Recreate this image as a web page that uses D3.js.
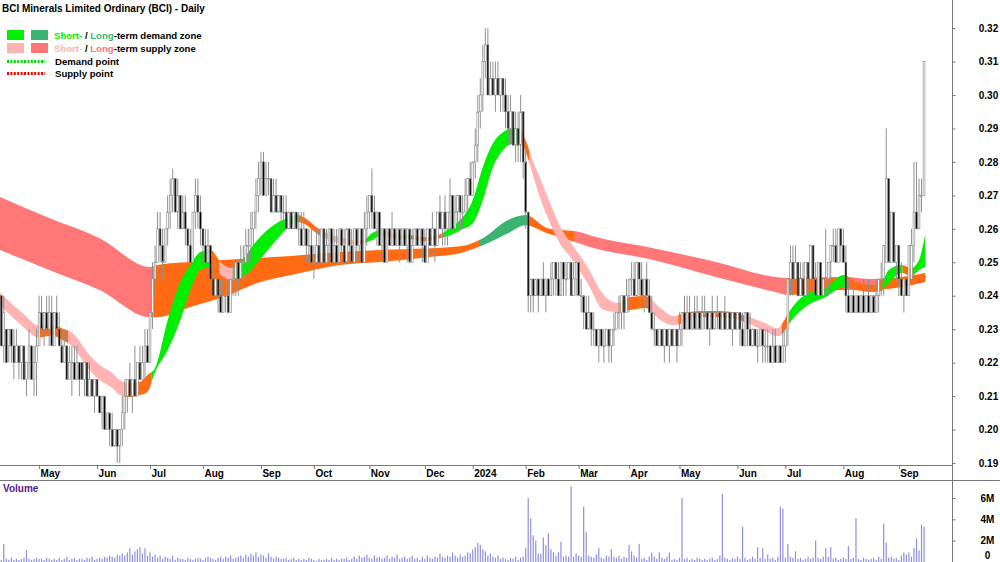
<!DOCTYPE html>
<html>
<head>
<meta charset="utf-8">
<script src="https://cdn.jsdelivr.net/npm/d3@7"></script>
<style>
body { margin: 0; background: #fff; }
svg { display: block; font-family: "Liberation Sans", Arial, sans-serif; }
</style>
</head>
<body>
<script>
// prices in thousandths of a dollar, one entry per trading day from 5 Apr 2023
const opens = [
	240,225,230,225,230,225,220,225, 220,225,215,220,225,215,220,225,
	235,230,235,230,235,225,235,230, 225,220,225,215,220,220,215,220,
	220,215,220,210,215,210,215,210, 205,210,200,205,200,195,200,195,
	200,205,210,215,210,215,210,220, 215,220,225,220,235,245,250,260,
	255,250,260,265,270,275,265,270, 260,265,260,255,250,265,270,265,
	260,255,250,255,245,240,245,240, 235,240,240,235,245,245,250,245,
	250,250,255,255,260,265,270,275, 280,270,275,275,265,270,265,270,
	265,265,260,265,260,265,260,260, 255,260,255,255,250,250,255,250,
	260,250,255,260,250,255,250,260, 255,250,260,255,250,260,255,260,
	250,260,265,270,265,260,265,255, 260,250,260,255,260,255,260,255,
	260,255,260,250,255,260,255,260, 255,250,260,255,260,255,265,260,
	265,260,265,270,260,265,270,265, 265,270,275,270,280,285,295,300,
	310,315,300,305,300,305,300,305, 300,295,290,295,285,290,285,295,
	280,265,240,245,240,245,240,245, 240,245,240,245,250,245,240,250,
	245,245,250,240,245,250,240,240, 235,230,235,230,230,225,230,225,
	225,230,225,230,230,235,235,240, 235,240,245,245,240,250,245,240,
	245,240,235,230,230,225,230,225, 230,225,230,225,230,225,230,235,
	230,235,230,235,230,235,230,235, 235,230,235,230,235,235,230,235,
	230,235,230,235,230,235,230,225, 235,230,225,230,225,225,230,225,
	225,225,220,225,220,225,220,225, 230,245,250,245,250,240,245,240,
	250,245,255,245,240,250,240,245, 245,250,255,255,250,260,255,250,
	240,235,240,235,240,235,240,235, 240,235,240,235,240,245,245,250,
	275,250,265,250,255,245,240,245, 240,245,255,265,260,270,270
]
const highs = [
	240,240,230,230,230,230,230,225, 225,225,220,230,225,225,230,240,
	240,235,240,240,240,235,240,235, 230,230,225,225,225,225,225,220,
	220,220,220,220,215,215,215,210, 210,210,205,205,205,200,200,200,
	210,215,215,220,215,225,220,225, 225,230,230,235,250,255,265,265,
	260,260,270,275,278,275,275,270, 270,270,260,260,265,275,275,270,
	260,260,260,255,250,250,245,245, 245,245,245,245,250,250,250,255,
	255,260,260,265,265,275,280,283, 283,280,280,275,275,275,270,270,
	270,270,265,265,265,265,265,265, 265,260,260,260,255,260,260,260,
	260,260,260,260,260,260,260,260, 260,260,260,260,260,260,260,260,
	265,270,270,278,270,265,265,260, 260,260,260,265,260,260,260,260,
	260,260,260,260,260,260,260,260, 260,260,260,265,260,265,270,265,
	270,265,275,270,270,270,270,270, 275,275,280,280,290,300,305,315,
	320,320,310,310,310,310,305,305, 305,300,300,295,295,295,300,295,
	285,265,245,245,245,245,245,250, 245,245,250,250,250,250,250,250,
	250,250,250,250,250,250,245,240, 240,240,235,235,230,230,230,230,
	230,230,230,235,235,240,240,240, 245,245,250,250,250,250,250,245,
	250,245,240,235,230,230,230,230, 230,230,230,230,230,235,235,240,
	240,240,235,240,240,235,240,240, 235,235,240,235,240,235,235,240,
	235,235,235,235,235,235,235,235, 235,235,230,230,230,230,230,230,
	230,225,230,230,225,225,230,230, 245,255,255,255,250,250,250,250,
	250,255,255,250,250,250,245,260, 250,255,260,260,260,260,260,255,
	245,240,245,240,240,240,245,240, 245,240,240,245,245,250,255,290,
	275,265,265,255,255,250,245,245, 255,260,280,280,275,275,310
]
const lows = [
	225,220,220,220,220,215,220,215, 215,215,210,215,215,210,210,225,
	230,225,230,225,225,225,230,225, 220,220,215,215,210,215,215,210,
	215,210,210,210,210,205,210,205, 200,200,200,195,195,195,190,190,
	195,200,205,210,205,210,210,215, 215,215,220,220,230,240,250,250,
	245,250,255,260,265,265,260,260, 260,255,250,250,250,260,260,255,
	250,250,250,245,240,240,235,235, 235,235,235,235,240,240,240,245,
	245,245,250,250,255,260,265,270, 270,270,270,265,265,265,265,260,
	260,260,260,260,260,260,255,255, 255,250,250,250,245,250,250,250,
	250,250,250,250,250,250,250,250, 250,250,250,250,250,250,250,250,
	250,255,260,260,260,255,255,250, 250,250,255,255,255,255,250,255,
	255,250,250,250,255,255,255,250, 250,250,255,255,250,255,260,255,
	255,255,260,260,260,260,260,260, 265,265,270,270,275,280,290,295,
	305,300,300,300,295,300,295,295, 290,285,285,285,280,280,280,275,
	260,235,235,235,240,235,240,240, 235,240,240,240,240,240,240,240,
	240,245,240,240,240,240,235,230, 230,230,225,225,225,220,225,220,
	225,220,220,225,230,230,230,230, 235,235,240,240,240,240,240,235,
	240,235,230,225,225,225,225,220, 225,220,225,225,220,225,225,230,
	230,230,230,230,230,230,230,230, 230,225,230,230,230,230,230,230,
	230,230,225,230,230,225,225,225, 225,225,225,225,220,225,220,220,
	220,220,220,220,220,220,220,220, 225,240,240,245,240,240,240,240,
	240,245,245,240,240,240,240,240, 240,245,250,250,250,250,250,235,
	235,235,235,235,235,235,235,235, 235,235,235,235,235,240,240,250,
	250,250,250,245,240,240,235,240, 240,245,250,260,260,265,270
]
const closes = [
	225,235,220,230,225,220,225,220, 225,215,220,225,215,220,225,235,
	230,235,230,235,225,235,230,225, 220,225,215,220,220,215,220,215,
	215,220,210,215,210,215,210,205, 210,200,205,200,195,200,195,200,
	205,210,215,210,215,210,220,215, 220,225,220,235,245,250,260,255,
	250,260,265,270,275,265,270,260, 265,260,255,250,265,270,265,260,
	255,250,255,245,240,245,240,235, 240,240,235,245,245,250,245,250,
	250,255,255,260,265,270,275,280, 270,275,275,265,270,265,270,265,
	265,260,265,260,265,260,260,255, 260,255,255,250,250,255,250,260,
	250,255,260,250,255,250,260,255, 250,260,255,250,260,255,260,250,
	260,265,270,265,260,265,255,260, 250,260,255,260,255,260,255,260,
	255,260,250,255,260,255,260,255, 250,260,255,260,255,265,260,265,
	260,265,270,260,265,270,265,265, 270,275,270,280,285,295,300,310,
	315,300,305,300,305,300,305,300, 295,290,295,285,290,285,295,280,
	265,240,245,240,245,240,245,240, 245,240,245,250,245,240,250,245,
	245,250,240,245,250,240,240,235, 230,235,230,230,225,230,225,225,
	230,225,230,230,235,235,240,235, 240,245,245,240,250,245,240,245,
	240,235,230,230,225,230,225,230, 225,230,225,230,225,230,235,230,
	235,230,235,230,235,230,235,235, 230,235,230,235,235,230,235,230,
	235,230,235,230,235,230,225,235, 230,225,230,225,225,230,225,225,
	225,220,225,220,225,220,225,230, 245,250,245,250,240,245,240,250,
	245,255,245,240,250,240,245,245, 250,255,255,250,260,255,250,240,
	235,240,235,240,235,240,235,240, 235,240,235,240,245,245,255,275,
	250,265,250,255,245,240,245,240, 255,255,265,260,270,270,310
]
// volume in units of 100,000 shares
const volumes = [
	2,17,3,2,4,2,3,2, 3,4,11,3,2,3,4,3,
	3,2,4,3,2,3,2,4, 2,3,5,2,3,4,2,3,
	3,2,4,3,5,2,3,4, 3,5,4,6,5,4,7,6,
	8,6,9,13,7,10,12,14, 8,13,6,9,5,7,4,6,
	3,5,4,3,6,2,4,3, 3,2,4,3,2,3,4,3,
	2,4,5,4,3,2,4,5, 3,5,4,6,3,4,5,6,
	4,7,5,8,6,9,5,7, 6,4,8,5,3,5,4,3,
	3,4,2,3,4,2,3,2, 3,2,4,3,2,1,3,2,
	2,3,2,4,2,3,2,3, 3,4,2,3,5,3,6,4,
	5,7,4,3,6,4,5,3, 4,6,3,5,4,7,3,4,
	5,3,4,6,3,4,2,5, 3,6,4,3,5,4,8,5,
	4,6,5,9,6,4,7,5, 6,9,8,12,14,18,16,12,
	10,6,8,5,4,6,3,4, 3,2,4,3,5,2,4,5,
	13,60,41,25,20,8,8,23, 16,27,12,9,6,9,19,5,
	6,5,71,5,8,6,5,52, 28,6,5,4,7,13,4,3,
	6,5,12,5,4,6,3,5, 4,16,10,6,4,17,3,4,
	2,5,9,5,3,9,4,3, 5,9,2,3,2,4,60,3,
	4,2,3,2,4,3,2,3, 2,3,4,2,3,6,64,4,
	3,2,4,3,5,3,33,4, 2,3,5,3,14,4,13,3,
	7,3,4,2,5,52,50,4, 17,5,4,10,3,4,2,3,
	5,3,4,20,4,3,5,13, 5,14,3,4,2,3,4,3,
	15,3,4,41,3,2,4,3, 2,3,4,2,5,3,36,18,
	4,5,3,4,2,6,9,7, 9,5,13,22,11,35,33
]

// short-term and long-term ribbon edges (bar index, top, bottom in thousandths)
const shortAt = [-0.5,8,15,20,25,28,35,39,44,47,50,55,58,61,66,71,75,79,83,87,91,94,98,101.5,108,115,117.5,120.5,124.5,128.5,134.4,140.4,143.5,147,150,154,158,162,168,174,178,182,187,191,195,199,203,206,208,210.5,214,218,222,226,232.5,239,244.3,249.5,255.5,261.4,266.6,271.3,277.3,285,293,298,303,308,311,313,320,327,334,339,345,349,352,357,361,364,366.5]
const shortTop = [241.0,235.1,231.0,231.0,230.0,229.0,222.3,219.3,216.9,214.8,213.9,214.2,216.3,218.4,232.7,244.1,249.2,253.1,253.7,250.0,248.3,249.2,253.1,256.6,261.1,263.5,264.1,263.2,260.8,259.0,257.5,256.6,256.6,258.7,259.6,259.0,258.1,258.1,257.5,258.4,260.2,262.6,268.6,278.5,285.6,288.9,290.1,289.5,286.5,281.0,274.6,267.1,260.2,255.7,248.6,240.2,237.8,239.6,239.9,236.3,233.9,234.8,235.4,235.4,234.5,233.3,231.8,230.3,233.3,235.7,240.8,242.3,246.2,244.1,243.2,243.8,247.7,249.2,248.3,250.7,258.5]
const shortBottom = [237.2,231.2,227.5,228.0,226.5,225.0,217.8,214.8,212.4,210.3,209.7,210.3,211.2,217.2,223.8,232.7,241.7,247.7,248.6,246.2,244.7,245.3,246.8,249.8,255.7,261.1,262.0,261.4,259.0,257.2,255.7,255.4,255.7,256.6,257.8,257.5,256.9,256.9,256.3,257.2,258.1,259.6,261.7,268.6,278.5,283.5,285.6,285.9,283.0,277.0,268.6,261.1,255.1,251.3,243.8,235.7,235.1,235.7,236.3,232.7,231.2,232.1,233.6,233.6,232.7,231.2,229.4,227.9,229.7,232.1,237.2,239.6,242.6,241.7,241.1,241.4,243.8,246.8,245.9,247.7,248.6]
const longAt = [-0.5,19,39,59,62,75,88,101.5,115,134.4,150,170,182,191,201,208,216.6,229.7,232.5,258.6,285,307,312,334,345,357,366.5]
const longTop = [269.5,263.2,257.2,248.6,249.2,250.1,250.7,251.3,251.9,253.1,253.7,254.2,254.8,257.2,262.6,264.1,260.2,259.0,258.3,254.2,249.8,245.6,245.3,245.6,245.0,245.6,246.8]
const longBottom = [253.7,247.7,241.7,233.6,233.6,236.6,239.6,243.8,246.2,249.2,250.1,251.6,252.7,255.1,258.7,261.1,258.7,255.5,254.8,250.7,245.3,241.1,240.2,241.7,241.7,242.6,244.1]

// colour state of each ribbon: d = demand, s = supply, m = mixed
const shortRunStart = [0,15,27,50,60,84,87,93,119,127,142,144,151,159,163,175,206,210,246,257,269,296,310,313,336,350,358,362]
const shortRunState = ['s','m','s','m','d','m','s','d','m','s','m','d','m','d','m','d','m','s','m','s','m','s','m','d','m','d','m','d']
const longRunStart = [0,61,190,209,228,312,335,349]
const longRunState = ['s','m','d','m','s','m','s','m']

const priceTicks = [0.19,0.20,0.21,0.22,0.23,0.24,0.25,0.26,0.27,0.28,0.29,0.30,0.31,0.32]
const volumeTicks = [0,2,4,6]
const volumeTickLabels = ['0','2M','4M','6M']

const holidays = ['2023-04-07','2023-04-10','2023-04-25','2023-06-12','2023-12-25','2023-12-26',
	'2024-01-01','2024-01-26','2024-03-29','2024-04-01','2024-04-25','2024-06-10']

const shortColor = { d: '#00ee00', s: '#ffb3b3', m: '#ff6a13' }
const longColor = { d: '#3cb371', s: '#ff7777', m: '#ff6a13' }

const width = 1000
const height = 562
const axisX = 952.5

// trading calendar for the bars
const dayKey = d3.timeFormat('%Y-%m-%d')
const dates = []
for (let d = new Date(2023, 3, 5); dates.length < opens.length; d = d3.timeDay.offset(d, 1)) {
	const wd = d.getDay()
	if (wd === 0 || wd === 6 || holidays.includes(dayKey(d))) continue
	dates.push(d)
}

const bars = opens.map((o, i) => ({
	i, date: dates[i],
	o: o / 1000, h: highs[i] / 1000, l: lows[i] / 1000, c: closes[i] / 1000,
	v: volumes[i] / 10
}))

const x = d3.scaleLinear().domain([-0.5, 375.5]).range([0, 948])
const y = d3.scaleLinear().domain([0.1894, 0.3284]).range([465, 0])
const yv = d3.scaleLinear().domain([0, 7.69]).range([562, 480])

const svg = d3.select('body').append('svg')
	.attr('width', width)
	.attr('height', height)

const defs = svg.append('defs')

const band = (at, top, bottom) => at.map((i, k) => ({ i, hi: top[k] / 1000, lo: bottom[k] / 1000 }))
const area = d3.area()
	.curve(d3.curveMonotoneX)
	.x(d => x(d.i))
	.y0(d => y(d.lo))
	.y1(d => y(d.hi))

function drawRibbon (name, pts, starts, states, colors) {
	const g = svg.append('g')
	starts.forEach((s, k) => {
		const e = k < starts.length - 1 ? starts[k + 1] : bars.length + 2
		const id = `${name}${k}`
		defs.append('clipPath').attr('id', id)
			.append('rect')
			.attr('x', x(s - 0.5))
			.attr('width', x(e - 0.5) - x(s - 0.5))
			.attr('y', 0)
			.attr('height', 465)
		g.append('path')
			.attr('d', area(pts))
			.attr('fill', colors[states[k]])
			.attr('clip-path', `url(#${id})`)
	})
}

drawRibbon('long', band(longAt, longTop, longBottom), longRunStart, longRunState, longColor)
drawRibbon('short', band(shortAt, shortTop, shortBottom), shortRunStart, shortRunState, shortColor)

// candles
const candle = svg.append('g').selectAll('g')
	.data(bars)
	.enter().append('g')

candle.append('line')
	.attr('x1', d => x(d.i)).attr('x2', d => x(d.i))
	.attr('y1', d => y(d.h)).attr('y2', d => y(d.l))
	.attr('stroke', '#909090')
	.attr('stroke-width', 1)

candle.append('rect')
	.attr('x', d => x(d.i) - 0.9)
	.attr('width', 1.8)
	.attr('y', d => y(Math.max(d.o, d.c)))
	.attr('height', d => Math.max(1, Math.abs(y(d.o) - y(d.c))))
	.attr('fill', d => d.c >= d.o ? '#fff' : '#000')
	.attr('stroke', '#858585')
	.attr('stroke-width', 0.6)

// volume
svg.append('g').selectAll('rect')
	.data(bars)
	.enter().append('rect')
	.attr('x', d => x(d.i) - 0.6)
	.attr('width', 1.2)
	.attr('y', d => yv(d.v))
	.attr('height', d => yv(0) - yv(d.v))
	.attr('fill', '#8f8fdc')

// frame lines
svg.append('line').attr('x1', axisX).attr('x2', axisX).attr('y1', 0).attr('y2', height).attr('stroke', '#777')
svg.append('line').attr('x1', 0).attr('x2', axisX).attr('y1', 465.5).attr('y2', 465.5).attr('stroke', '#777')
svg.append('line').attr('x1', 0).attr('x2', width).attr('y1', 480.5).attr('y2', 480.5).attr('stroke', '#777')

const styleAxis = g => {
	g.select('.domain').remove()
	g.selectAll('line').attr('stroke', '#777')
	g.selectAll('text')
		.attr('fill', '#000')
		.style('font-weight', 'bold')
		.style('font-size', '10px')
		.style('font-family', '"Liberation Sans", Arial, sans-serif')
}

svg.append('g')
	.attr('transform', `translate(${axisX},0)`)
	.call(d3.axisRight(y).tickValues(priceTicks).tickSize(3).tickFormat(d3.format('.2f')))
	.call(styleAxis)
	.call(g => g.selectAll('text').attr('text-anchor', 'middle').attr('x', 36))

svg.append('g')
	.attr('transform', `translate(${axisX},0)`)
	.call(d3.axisRight(yv).tickValues(volumeTicks).tickSize(3).tickFormat((d, k) => volumeTickLabels[k]))
	.call(styleAxis)
	.call(g => g.selectAll('text').attr('text-anchor', 'middle').attr('x', 35))
	// keep the zero label inside the picture
	.call(g => g.selectAll('text').filter(d => d === 0).attr('y', -7))

// month ticks at the first trading day of each month
const monthStarts = bars.filter((d, k) => k > 0 && d.date.getMonth() !== bars[k - 1].date.getMonth())
const monthName = d3.timeFormat('%b')
svg.append('g')
	.attr('transform', 'translate(0,466)')
	.call(d3.axisBottom(x)
		.tickValues(monthStarts.map(d => d.i))
		.tickSize(3)
		.tickPadding(1)
		.tickFormat(i => bars[i].date.getMonth() === 0 ? bars[i].date.getFullYear() : monthName(bars[i].date)))
	.call(styleAxis)
	.call(g => g.selectAll('text').attr('text-anchor', 'start').attr('x', 1))

// titles
svg.append('text')
	.attr('x', 2).attr('y', 11.5)
	.style('font-weight', 'bold').style('font-size', '10px')
	.text('BCI Minerals Limited Ordinary (BCI) - Daily')

svg.append('text')
	.attr('x', 3).attr('y', 492)
	.attr('fill', '#551a8b')
	.style('font-weight', 'bold').style('font-size', '10px')
	.text('Volume')

// legend
const legend = svg.append('g').style('font-weight', 'bold').style('font-size', '9.6px')
const swatchRows = [
	{ y: 30, a: shortColor.d, b: longColor.d, kind: 'demand' },
	{ y: 43, a: shortColor.s, b: longColor.s, kind: 'supply' }
]
swatchRows.forEach(r => {
	legend.append('rect').attr('x', 7).attr('y', r.y).attr('width', 17).attr('height', 10).attr('fill', r.a)
	legend.append('rect').attr('x', 31).attr('y', r.y).attr('width', 17).attr('height', 10).attr('fill', r.b)
	const t = legend.append('text').attr('x', 54).attr('y', r.y + 8.5)
	t.append('tspan').attr('fill', r.a).text('Short-')
	t.append('tspan').attr('fill', '#000').text(' / ')
	t.append('tspan').attr('fill', r.b).text('Long')
	t.append('tspan').attr('fill', '#000').text(`-term ${r.kind} zone`)
})
const pointRows = [
	{ y: 61.5, color: '#00dd00', label: 'Demand point' },
	{ y: 73.5, color: '#ff0000', label: 'Supply point' }
]
pointRows.forEach(r => {
	legend.append('line')
		.attr('x1', 7).attr('x2', 45).attr('y1', r.y).attr('y2', r.y)
		.attr('stroke', r.color).attr('stroke-width', 3).attr('stroke-dasharray', '2,1.4')
	legend.append('text').attr('x', 55).attr('y', r.y + 3.5).attr('fill', '#000').text(r.label)
})
</script>
</body>
</html>
